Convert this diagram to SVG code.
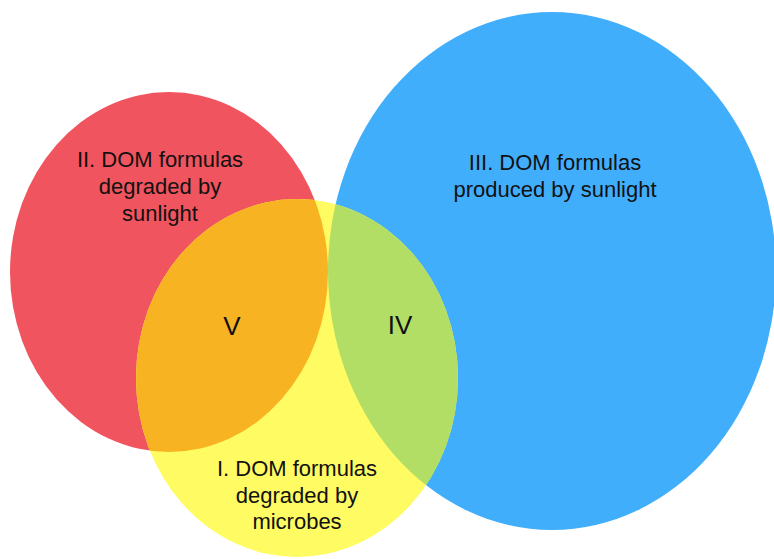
<svg xmlns="http://www.w3.org/2000/svg" width="774" height="559" viewBox="0 0 774 559">
<style>
text{font-family:"Liberation Sans",Arial,sans-serif;fill:#111;text-anchor:middle}
.lbl{font-size:22px}
.roman{font-size:26px}
</style>
<defs>
<clipPath id="clipRed"><ellipse cx="169" cy="272" rx="159" ry="180"/></clipPath>
<clipPath id="clipBlue"><ellipse cx="552" cy="271" rx="224" ry="259"/></clipPath>
</defs>
<rect width="774" height="559" fill="#ffffff"/>
<g id="set-II">
<ellipse cx="169" cy="272" rx="159" ry="180" fill="#F0545E"/>
</g>
<g id="set-III">
<ellipse cx="552" cy="271" rx="224" ry="259" fill="#41AEFC"/>
</g>
<g id="set-I">
<ellipse cx="297" cy="378" rx="161" ry="179" fill="#FFFB63"/>
</g>
<g id="region-V">
<ellipse cx="297" cy="378" rx="161" ry="179" fill="#F8B323" clip-path="url(#clipRed)"/>
</g>
<g id="region-IV">
<ellipse cx="297" cy="378" rx="161" ry="179" fill="#B3DE66" clip-path="url(#clipBlue)"/>
</g>
<g id="labels">
<text class="lbl" x="160" y="167">II. DOM formulas</text>
<text class="lbl" x="160" y="194">degraded by</text>
<text class="lbl" x="160" y="221">sunlight</text>
<text class="lbl" x="555" y="170">III. DOM formulas</text>
<text class="lbl" x="555" y="197">produced by sunlight</text>
<text class="lbl" x="297" y="476">I. DOM formulas</text>
<text class="lbl" x="297" y="503">degraded by</text>
<text class="lbl" x="297" y="529">microbes</text>
<text class="roman" x="232" y="335">V</text>
<text class="roman" x="400" y="334">IV</text>
</g>
</svg>
